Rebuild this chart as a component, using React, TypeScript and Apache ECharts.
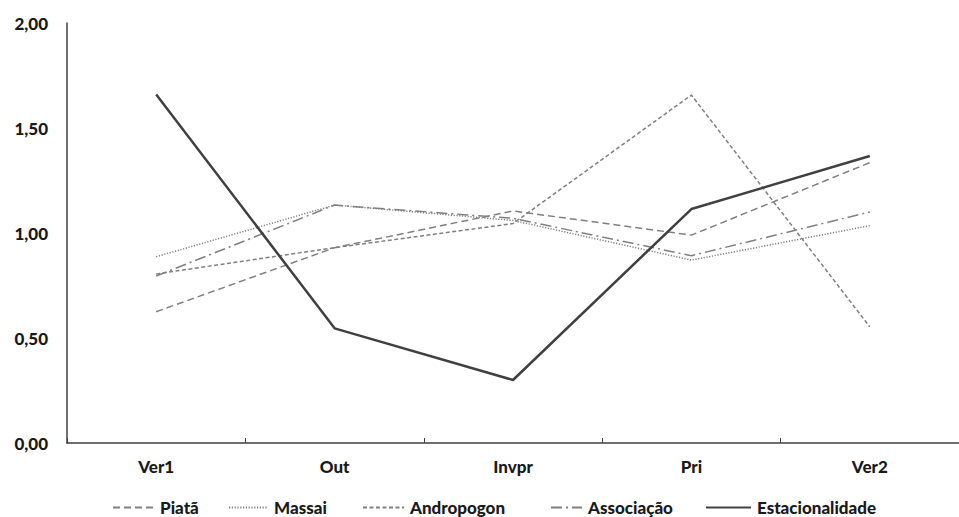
import React, { useEffect, useRef } from "react";
import * as echarts from "echarts";

const categories = ["Ver1", "Out", "Invpr", "Pri", "Ver2"];
const piata = [0.625, 0.93, 1.105, 0.99, 1.335];
const massai = [0.887, 1.133, 1.06, 0.871, 1.035];
const andropogon = [0.805, 0.93, 1.045, 1.657, 0.553];
const associacao = [0.795, 1.133, 1.07, 0.892, 1.1];
const estacionalidade = [1.66, 0.546, 0.3, 1.114, 1.367];
const yTicks = { min: 0, max: 2, step: 0.5 };

const FONT = "Lato";
const TEXT = "#1a1a1a";
const WEIGHT = 900;

// one legend block per series so each entry sits at its own x position
const legendSlots = [
  { name: "Piatã", left: 112, width: 41 },
  { name: "Massai", left: 228, width: 39 },
  { name: "Andropogon", left: 362, width: 41 },
  { name: "Associação", left: 550, width: 31 },
  { name: "Estacionalidade", left: 705, width: 45 },
];

export default function App() {
  const ref = useRef<HTMLDivElement>(null);

  useEffect(() => {
    document.body.style.margin = "0";
    const chart = echarts.init(ref.current!, null, { renderer: "svg" });
    const mk = (name: string, data: number[], color: string, width: number, type: any) => ({
      name,
      type: "line",
      data,
      symbol: "none",
      lineStyle: { color, width, type },
      itemStyle: { color },
    });
    chart.setOption({
      animation: false,
      backgroundColor: "#ffffff",
      grid: { left: 67, right: -7, top: 23, bottom: 74 },
      legend: legendSlots.map((s) => ({
        top: 499,
        left: s.left,
        itemWidth: s.width,
        itemHeight: 12,
        itemGap: 0,
        padding: 0,
        itemStyle: { opacity: 0 },
        textStyle: { fontFamily: FONT, fontWeight: WEIGHT, fontSize: 17, color: TEXT, padding: [0, 0, 0, 1] },
        data: [s.name],
      })),
      xAxis: {
        type: "category",
        data: categories,
        axisLine: { lineStyle: { color: "#404040", width: 1.5 } },
        axisTick: { show: true, inside: true, length: 5, lineStyle: { color: "#404040" } },
        axisLabel: { margin: 15, fontFamily: FONT, fontWeight: WEIGHT, fontSize: 17, color: TEXT },
      },
      yAxis: {
        type: "value",
        min: yTicks.min,
        max: yTicks.max,
        interval: yTicks.step,
        axisLine: { show: true, lineStyle: { color: "#404040", width: 1.5 } },
        axisTick: { show: false },
        splitLine: { show: false },
        axisLabel: {
          margin: 19,
          fontFamily: FONT,
          fontWeight: WEIGHT,
          fontSize: 17,
          color: TEXT,
          formatter: (v: number) => v.toFixed(2).replace(".", ","),
        },
      },
      series: [
        mk("Piatã", piata, "#808080", 1.5, [7, 4]),
        mk("Massai", massai, "#808080", 1.5, [1.2, 1.6]),
        mk("Andropogon", andropogon, "#808080", 1.5, [4, 2.5]),
        mk("Associação", associacao, "#808080", 1.5, [11, 4, 2, 4]),
        mk("Estacionalidade", estacionalidade, "#404040", 2.5, "solid"),
      ],
    });
    return () => chart.dispose();
  }, []);

  return <div ref={ref} style={{ width: 959, height: 517 }} />;
}
